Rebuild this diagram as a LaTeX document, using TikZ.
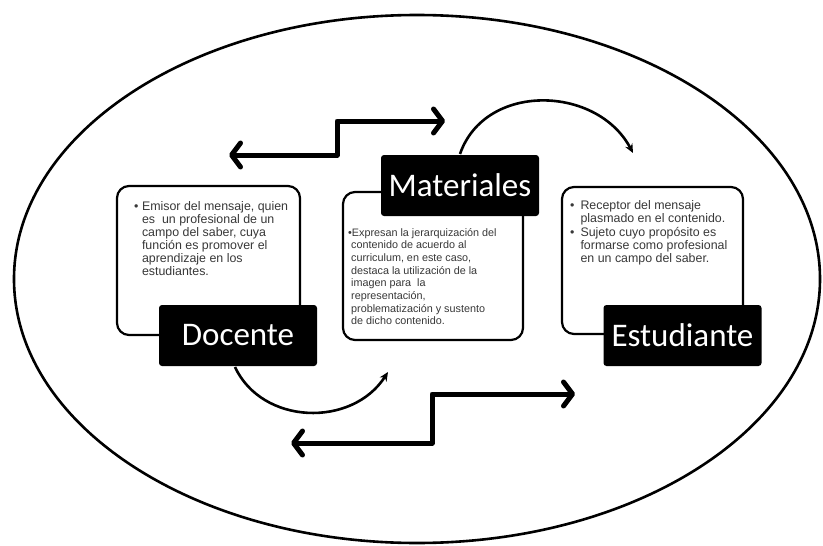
\documentclass[tikz,border=0pt]{standalone}
\usepackage{fontspec}
\setmainfont{Liberation Sans}
\newfontfamily\labelfont{Carlito}
\usetikzlibrary{arrows.meta}
\definecolor{bodytext}{HTML}{383838}
\tikzset{
  wbox/.style={draw=black, line width=2.2pt, rounded corners=12pt, fill=white, inner sep=0pt},
  lbox/.style={fill=black, rounded corners=3pt, text=white, inner sep=0pt,
    minimum width=158pt, minimum height=61pt, font=\labelfont\fontsize{33}{36}\selectfont},
  btext/.style={inner sep=0pt, anchor=base west, text=bodytext},
  zig/.style={line width=5pt, line cap=round, line join=round,
    {Straight Barb[length=9pt,width=24pt,line cap=round,line join=round]}-{Straight Barb[length=9pt,width=24pt,line cap=round,line join=round]}},
  curv/.style={line width=2.6pt, -{Stealth[length=9pt,width=8pt]}}
}
\begin{document}
\begin{tikzpicture}[x=1pt,y=-1pt]
\useasboundingbox (0,0) rectangle (823,546);
\fill[white] (0,0) rectangle (823,546);
% outer ellipse
\draw[line width=2.6pt] (417,279) ellipse [x radius=403, y radius=264];

% white boxes
\node[wbox, minimum width=183pt, minimum height=149pt] (dbox) at (208.5,260.5) {};
\node[wbox, minimum width=180pt, minimum height=148pt] (mbox) at (433,266) {};
\node[wbox, minimum width=181pt, minimum height=147pt] (ebox) at (652.5,260.5) {};

% texts
\node[btext, font=\fontsize{12.4}{13}\selectfont] (dtext) at (134,210) {\begin{tabular}[t]{@{}l@{\hspace{3.5pt}}l@{}}
•& Emisor del mensaje, quien\\
 & es\ \ un profesional de un\\
 & campo del saber, cuya\\
 & función es promover el\\
 & aprendizaje en los\\
 & estudiantes.
\end{tabular}};
\node[btext, font=\fontsize{10.8}{12.7}\selectfont] (mtext) at (348,236) {\begin{tabular}[t]{@{}l@{}}
•Expresan la jerarquización del\\
\hspace{3pt}contenido de acuerdo al\\
\hspace{3pt}curriculum, en este caso,\\
\hspace{3pt}destaca la utilización de la\\
\hspace{3pt}imagen para\ \ la\\
\hspace{3pt}representación,\\
\hspace{3pt}problematización y sustento\\
\hspace{3pt}de dicho contenido.
\end{tabular}};
\node[btext, font=\fontsize{12.4}{13}\selectfont] (etext) at (570,209) {\begin{tabular}[t]{@{}l@{\hspace{6pt}}l@{}}
•& Receptor del mensaje\\
 & plasmado en el contenido.\\[1pt]
•& Sujeto cuyo propósito es\\
 & formarse como profesional\\
 & en un campo del saber.
\end{tabular}};

% labels
\node[lbox] (doc) at (238,335.5) {Docente};
\node[lbox] (mat) at (460,185.5) {Materiales};
\node[lbox] (est) at (682.5,335.5) {Estudiante};

% zigzag double arrows
\coordinate (zA) at (229,155);
\coordinate (zB) at (445,121);
\draw[zig] (zA) -- (337,155) -- (337,121) -- (zB);
\coordinate (zC) at (291,443);
\coordinate (zD) at (575,394);
\draw[zig] (zC) -- (432,443) -- (432,394) -- (zD);

% curved arrows
\coordinate (cA) at (235,367);
\coordinate (cB) at (388,372);
\draw[curv] (cA) .. controls (262,425) and (352,428) .. (cB);
\coordinate (cC) at (460,154);
\coordinate (cD) at (633,153);
\draw[curv] (cC) .. controls (485,82) and (597,85) .. (cD);
\end{tikzpicture}
\end{document}
